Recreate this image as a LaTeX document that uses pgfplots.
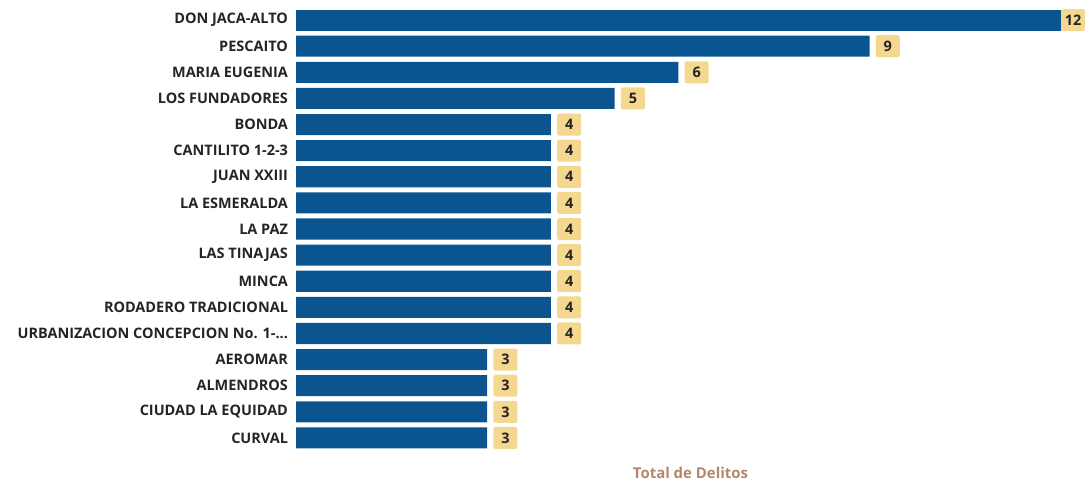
\documentclass[border=0pt]{standalone}
\usepackage{pgfplots}
\pgfplotsset{compat=1.18}
\usepackage{fontspec}
\setmainfont{Open Sans}
\definecolor{barblue}{HTML}{0A5490}
\definecolor{boxfill}{HTML}{F5D88F}
\definecolor{txt}{HTML}{252423}
\definecolor{axtitle}{HTML}{B5866C}
\newcommand{\threedots}{.{}.{}.}
\begin{document}
\begin{tikzpicture}
\path[use as bounding box] (0,0) rectangle (813.75pt,362.25pt);
\begin{axis}[
  at={(222pt,24pt)}, anchor=south west,
  scale only axis,
  width=591.75pt, height=333pt,
  xbar, bar width=15.8pt, bar shift=0pt,
  xmin=0, xmax=12.38,
  ymin=-0.5, ymax=16.5, y dir=reverse,
  ytick={0,1,2,3,4,5,6,7,8,9,10,11,12,13,14,15,16},
  yticklabels={DON JACA-ALTO,PESCAITO,MARIA EUGENIA,LOS FUNDADORES,BONDA,CANTILITO 1-2-3,JUAN XXIII,LA ESMERALDA,LA PAZ,LAS TINAJAS,MINCA,RODADERO TRADICIONAL,{URBANIZACION CONCEPCION No. 1-\threedots},AEROMAR,ALMENDROS,CIUDAD LA EQUIDAD,CURVAL},
  yticklabel style={font=\fontsize{10.85pt}{12pt}\selectfont\bfseries, text=txt, anchor=east, xshift=-2.5pt},
  major tick length=0pt,
  xtick=\empty,
  axis line style={draw=none},
  xlabel={Total de Delitos},
  xlabel style={font=\fontsize{11.2pt}{12pt}\selectfont\bfseries, text=axtitle, at={(axis description cs:0.5,0)}, anchor=center, yshift=-16.5pt},
  clip=false,
  /pgf/number format/assume math mode=true,
  nodes near coords,
  nodes near coords style={font=\fontsize{10.85pt}{12pt}\selectfont\bfseries, text=txt, anchor=west,
    fill=boxfill, rounded corners=1.5pt, minimum height=16.5pt, minimum width=18pt, inner sep=1pt},
]
\addplot[fill=barblue, draw=none, nodes near coords style={xshift=0pt}] coordinates {(12,0)};
\addplot[fill=barblue, draw=none, nodes near coords style={xshift=4.5pt}] coordinates {
(9,1) (6,2) (5,3) (4,4) (4,5) (4,6) (4,7) (4,8) (4,9) (4,10) (4,11) (4,12)
(3,13) (3,14) (3,15) (3,16)};
\end{axis}
\end{tikzpicture}
\end{document}
